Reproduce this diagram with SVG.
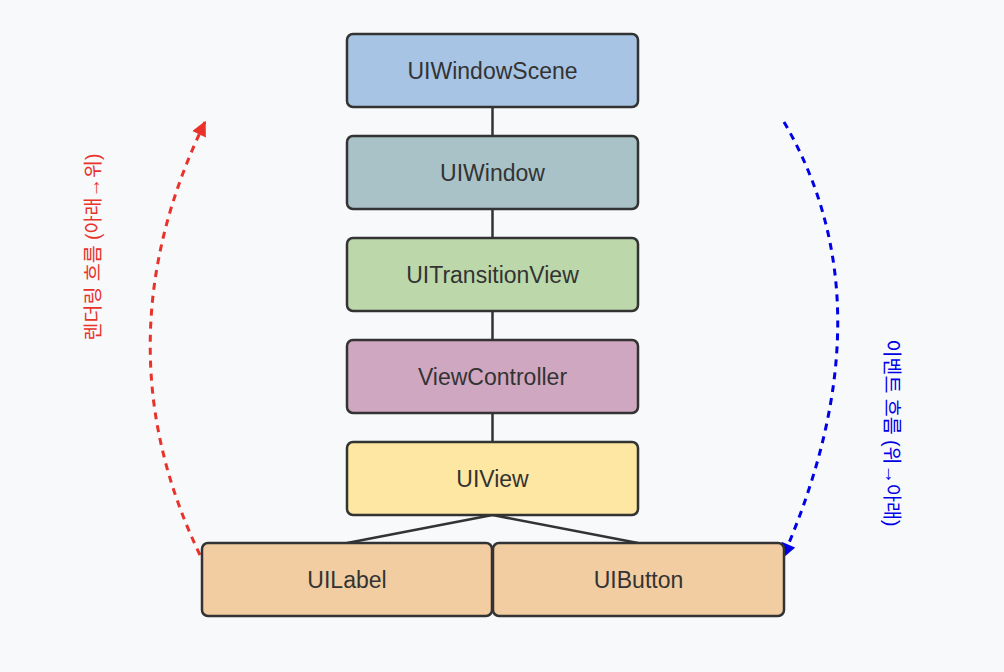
<svg xmlns="http://www.w3.org/2000/svg" width="1004" height="672" viewBox="0 0 1004 672">
<style>
.n rect{stroke:#333;stroke-width:2.5}
.n text{font-family:"Liberation Sans",Arial,sans-serif;font-size:23px;fill:#333;text-anchor:middle;dominant-baseline:central}
.e{stroke:#333;stroke-width:2.5;fill:none}
.flow{fill:none;stroke-width:3;stroke-dasharray:7,6}
.lbl{font-family:"Liberation Sans","Noto Sans CJK KR",sans-serif;font-size:19.5px;text-anchor:middle;dominant-baseline:central}
</style>
<defs>
<marker id="ar" viewBox="0 0 10 10" refX="9" refY="5" markerWidth="16" markerHeight="15" orient="auto" markerUnits="userSpaceOnUse"><path d="M0,0L10,5L0,10z" fill="#e8322a"/></marker>
<marker id="ab" viewBox="0 0 10 10" refX="9" refY="5" markerWidth="16" markerHeight="15" orient="auto" markerUnits="userSpaceOnUse"><path d="M0,0L10,5L0,10z" fill="#0000e6"/></marker>
</defs>
<rect width="1004" height="672" fill="#f7f9fb"/>
<g id="connectors">
<line class="e" x1="492.5" y1="107" x2="492.5" y2="136"/>
<line class="e" x1="492.5" y1="209" x2="492.5" y2="238"/>
<line class="e" x1="492.5" y1="311" x2="492.5" y2="340"/>
<line class="e" x1="492.5" y1="413" x2="492.5" y2="442"/>
<line class="e" x1="492.5" y1="515" x2="347" y2="543"/>
<line class="e" x1="492.5" y1="515" x2="638" y2="543"/>
<path class="flow" stroke="#e8322a" d="M200,555 Q98,343 205,122" marker-end="url(#ar)"/>
<path class="flow" stroke="#0000e6" d="M784,122 Q892,307 783,557" marker-end="url(#ab)"/>
</g>
<g id="n1" class="n"><rect x="347" y="34" width="291" height="73" rx="6" fill="#a7c4e4"/><text x="492.5" y="71">UIWindowScene</text></g>
<g id="n2" class="n"><rect x="347" y="136" width="291" height="73" rx="6" fill="#a9c2c8"/><text x="492.5" y="173">UIWindow</text></g>
<g id="n3" class="n"><rect x="347" y="238" width="291" height="73" rx="6" fill="#bcd8ab"/><text x="492.5" y="275">UITransitionView</text></g>
<g id="n4" class="n"><rect x="347" y="340" width="291" height="73" rx="6" fill="#d0a7c0"/><text x="492.5" y="377">ViewController</text></g>
<g id="n5" class="n"><rect x="347" y="442" width="291" height="73" rx="6" fill="#fde7a3"/><text x="492.5" y="479">UIView</text></g>
<g id="n6" class="n"><rect x="202" y="543" width="290" height="73" rx="6" fill="#f2cda1"/><text x="347" y="580">UILabel</text></g>
<g id="n7" class="n"><rect x="493" y="543" width="291" height="73" rx="6" fill="#f2cda1"/><text x="638.5" y="580">UIButton</text></g>
<text class="lbl" fill="#e8322a" transform="translate(93,247) rotate(-90)">렌더링 흐름 (아래→위)</text>
<text class="lbl" fill="#0000e6" transform="translate(892,433) rotate(90)">이벤트 흐름 (위→아래)</text>
</svg>
